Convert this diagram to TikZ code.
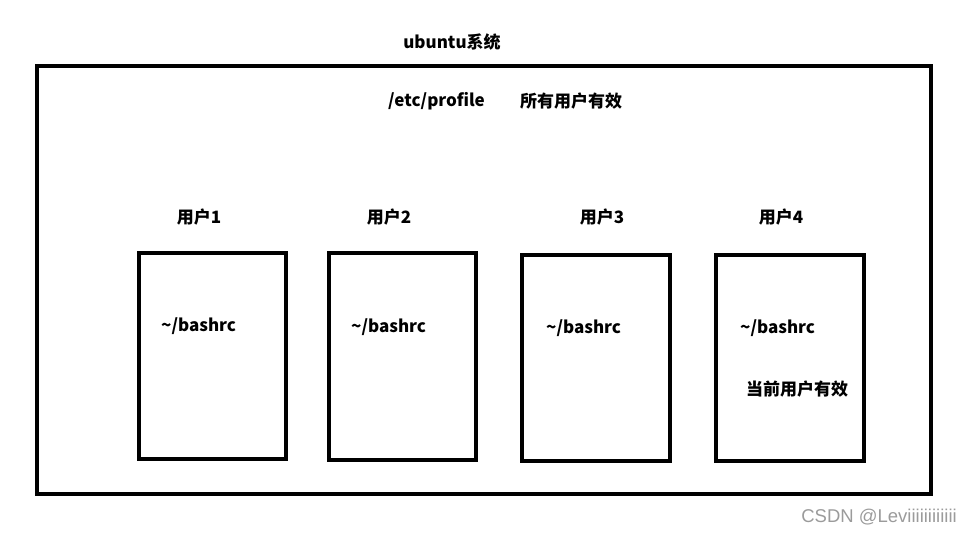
\documentclass[tikz,border=0pt]{standalone}
\usepackage{fontspec}
\newfontfamily\cjk{Noto Sans CJK SC}
\newfontfamily\wm{Liberation Sans}
\definecolor{wmgray}{RGB}{155,155,155}
\begin{document}
\begin{tikzpicture}[x=1pt,y=-1pt,
  frame/.style={draw=black, line width=4pt, inner sep=0pt, fill=none},
  lbl/.style={inner sep=0pt, font=\cjk\bfseries\fontsize{17}{20}\selectfont},
  wmark/.style={inner sep=0pt, text=wmgray, font=\wm\fontsize{18.5}{21}\selectfont}]
\useasboundingbox (0,0) rectangle (971,533);
\node[frame, minimum width=894pt, minimum height=428pt] (sys) at (484,280) {};
\node[frame, minimum width=147pt, minimum height=206pt] (b1) at (212.5,356) {};
\node[frame, minimum width=147pt, minimum height=207pt] (b2) at (402.5,356.5) {};
\node[frame, minimum width=148pt, minimum height=206pt] (b3) at (596,358) {};
\node[frame, minimum width=148pt, minimum height=206pt] (b4) at (790,358) {};
\node[lbl] (title) at (452,42) {ubuntu系统};
\node[lbl, anchor=west] (prof) at (388,101.5) {/etc/profile};
\node[lbl, anchor=west] (all) at (520,101.5) {所有用户有效};
\node[lbl] (u1) at (199,217.5) {用户1};
\node[lbl] (u2) at (389,217.5) {用户2};
\node[lbl] (u3) at (602,217.5) {用户3};
\node[lbl] (u4) at (781,217.5) {用户4};
\node[lbl, anchor=west] (r1) at (161,326) {\textasciitilde/bashrc};
\node[lbl, anchor=west] (r2) at (351,327) {\textasciitilde/bashrc};
\node[lbl, anchor=west] (r3) at (546,328) {\textasciitilde/bashrc};
\node[lbl, anchor=west] (r4) at (740,328) {\textasciitilde/bashrc};
\node[lbl, anchor=west] (cur) at (746,389.5) {当前用户有效};
\node[wmark, anchor=east] (wm) at (957,517) {CSDN @Leviiiiiiiiiiii};
\end{tikzpicture}
\end{document}
